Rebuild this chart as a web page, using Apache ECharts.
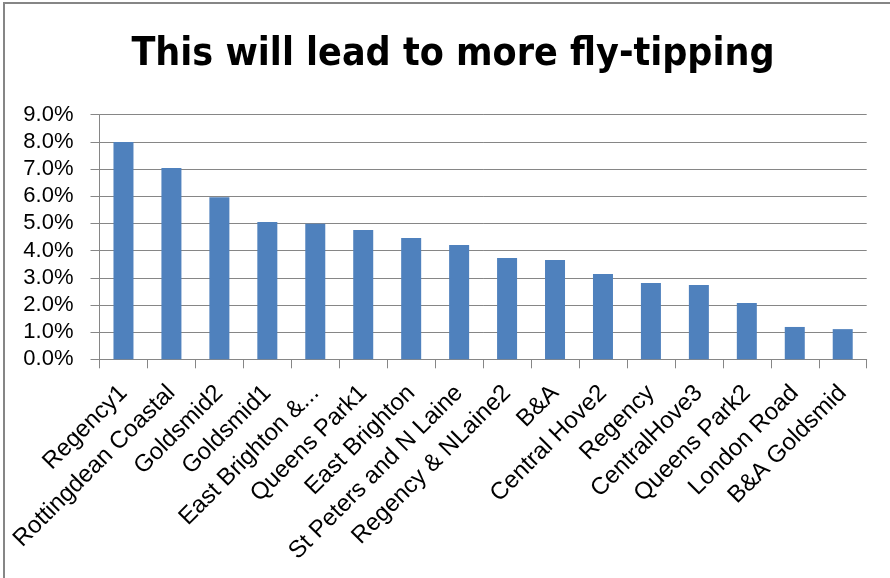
<!DOCTYPE html>
<html><head><meta charset="utf-8">
<script src="https://cdn.jsdelivr.net/npm/echarts@6/dist/echarts.min.js"></script>
<style>html,body{margin:0;padding:0;background:#fff}#c{width:890px;height:578px}</style>
</head><body><div id="c"></div>
<script>
var titleText = 'This will lead to more fly-tipping';
var categories = ['Regency1','Rottingdean Coastal','Goldsmid2','Goldsmid1','East Brighton &...','Queens Park1','East Brighton','St Peters and N Laine','Regency & NLaine2','B&A','Central Hove2','Regency','CentralHove3','Queens Park2','London Road','B&A Goldsmid'];
var values = [8.0,7.04,5.96,5.05,4.99,4.76,4.46,4.21,3.73,3.65,3.14,2.81,2.73,2.07,1.19,1.11];
var yTicks = {min:0, max:9, interval:1};

var chart = echarts.init(document.getElementById('c'), null, {renderer:'canvas'});
chart.setOption({
  animation:false,
  backgroundColor:'#ffffff',
  graphic:[{type:'rect', shape:{x:4,y:3,width:1000,height:1000}, style:{fill:null, stroke:'#868686', lineWidth:2}, silent:true}],
  title:{text:titleText, left:448, top:30, textAlign:'center',
    textStyle:{fontFamily:"'DejaVu Sans Condensed',sans-serif", fontWeight:'bold', fontSize:39, color:'#000'}},
  grid:{left:99.5, right:23.3, top:114.7, bottom:218.7, containLabel:false},
  xAxis:{type:'category', data:categories,
    axisLine:{lineStyle:{color:'#868686', width:1}},
    axisTick:{show:true, length:9, lineStyle:{color:'#868686'}},
    axisLabel:{rotate:45, interval:0, margin:30, color:'#000', fontSize:24, fontFamily:"'Liberation Sans',Arial,sans-serif"}
  },
  yAxis:{type:'value', min:yTicks.min, max:yTicks.max, interval:yTicks.interval,
    axisLine:{show:true, lineStyle:{color:'#868686', width:1}},
    axisTick:{show:true, length:9, lineStyle:{color:'#868686'}},
    splitLine:{lineStyle:{color:'#868686', width:1}},
    axisLabel:{margin:26, color:'#000', fontSize:22, fontFamily:"'Liberation Sans',Arial,sans-serif",
      formatter:function(v){return v.toFixed(1)+'%';}}
  },
  series:[{type:'bar', data:values, barWidth:20, itemStyle:{color:'#4F81BD'}}]
});
</script></body></html>
